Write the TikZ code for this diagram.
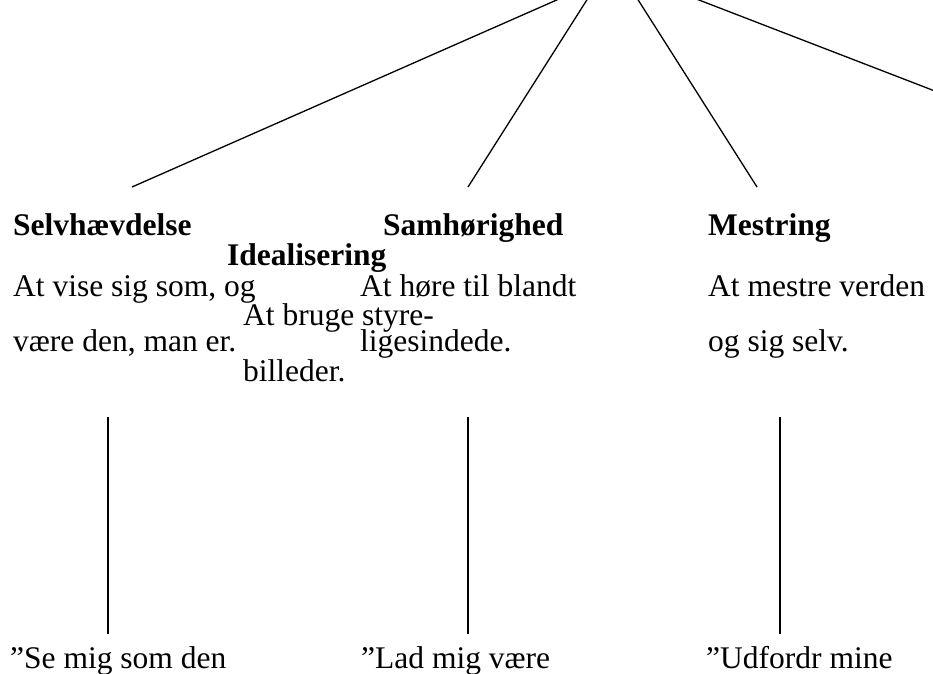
\documentclass[tikz,border=0pt]{standalone}
\usepackage{fontspec}
\setmainfont{Liberation Serif}
\begin{document}
\begin{tikzpicture}[x=1pt,y=-1pt,
  txt/.style={anchor=base west, inner sep=0pt, font=\fontsize{31.5}{36}\selectfont},
  hd/.style={txt, font=\fontsize{31.5}{36}\selectfont\bfseries},
  ln/.style={line width=1.3pt}]
\useasboundingbox (0,0) rectangle (933,673);
\clip (0,0) rectangle (933,673);
% headings
\node[hd] (selv) at (13,235) {Selvhævdelse};
\node[hd] (samh) at (383,235) {Samhørighed};
\node[hd] (mest) at (708,235) {Mestring};
\node[hd] (ideal) at (227,265) {Idealisering};
% body text
\node[txt] (s1) at (13,296) {At vise sig som, og};
\node[txt] (h1) at (360,296) {At høre til blandt};
\node[txt] (m1) at (708,296) {At mestre verden};
\node[txt] (i1) at (243,325) {At bruge styre-};
\node[txt] (s2) at (13,351) {være den, man er.};
\node[txt] (h2) at (360,351) {ligesindede.};
\node[txt] (m2) at (708,351) {og sig selv.};
\node[txt] (i2) at (243,381) {billeder.};
% bottom quotes
\node[txt] (s3) at (10,668) {”Se mig som den};
\node[txt] (h3) at (361,668) {”Lad mig være};
\node[txt] (m3) at (706,668) {”Udfordr mine};
% connector end points
\coordinate (t1) at (568,-5);
\coordinate (t2) at (590,-5);
\coordinate (t3) at (635,-5);
\coordinate (t4) at (686,-5);
\coordinate (b1) at (132,187);
\coordinate (b2) at (468,187);
\coordinate (b3) at (757,187);
\coordinate (b4) at (940,93);
\draw[ln] (b1) -- (t1);
\draw[ln] (b2) -- (t2);
\draw[ln] (b3) -- (t3);
\draw[ln] (b4) -- (t4);
% vertical connectors
\coordinate (v1t) at (108,417); \coordinate (v1b) at (108,634);
\coordinate (v2t) at (468,417); \coordinate (v2b) at (468,634);
\coordinate (v3t) at (780,417); \coordinate (v3b) at (780,634);
\draw[ln] (v1t) -- (v1b);
\draw[ln] (v2t) -- (v2b);
\draw[ln] (v3t) -- (v3b);
\end{tikzpicture}
\end{document}
